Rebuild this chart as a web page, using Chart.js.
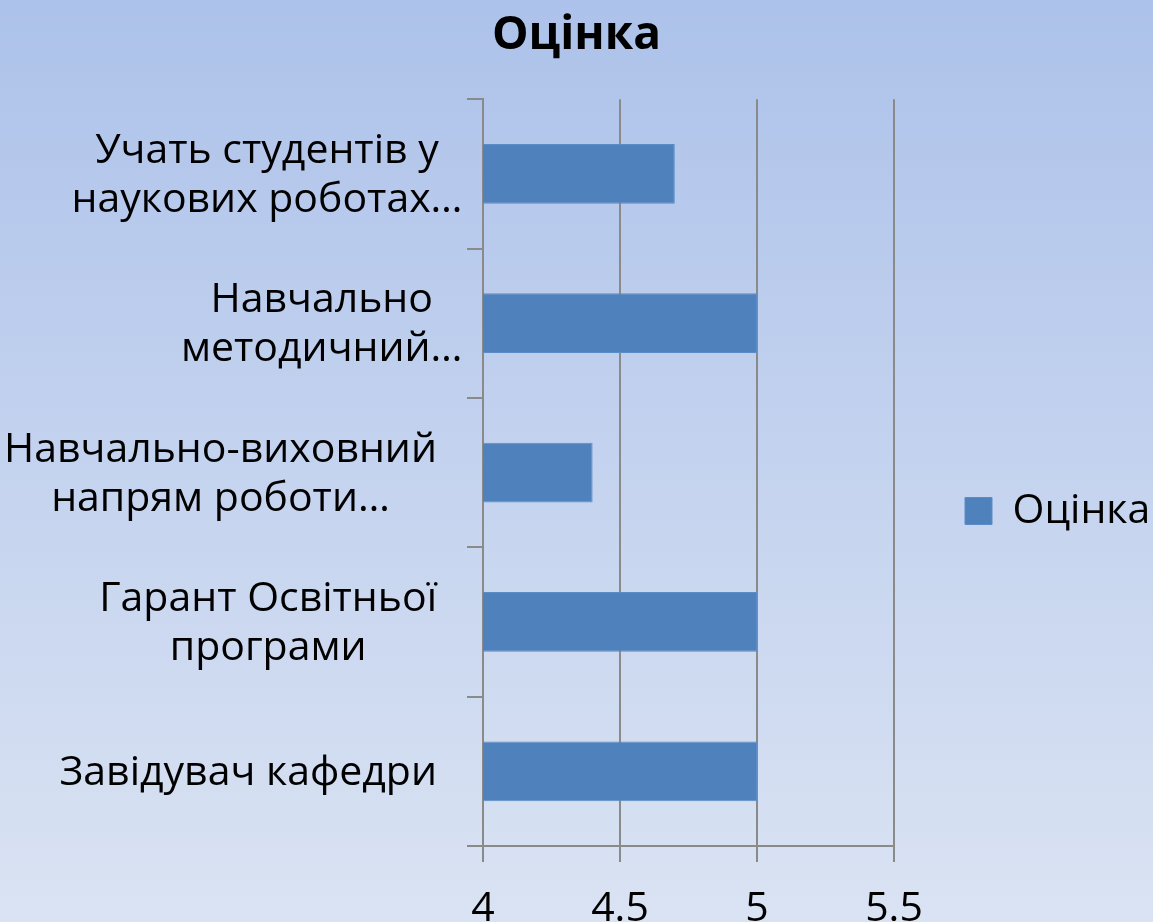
<!DOCTYPE html>
<html>
<head>
<meta charset="utf-8">
<script src="https://cdn.jsdelivr.net/npm/chart.js@4/dist/chart.umd.min.js"></script>
<style>
  html, body { margin: 0; padding: 0; background: #c5d3ee; }
  #wrap { width: 1153px; height: 922px; position: relative; }
</style>
</head>
<body>
<div id="wrap"><canvas id="c"></canvas></div>
<script>
// ---- data ----
const chartTitle = 'Оцінка';
const seriesName = 'Оцінка';
const categories = [
  ['Учать студентів у', 'наукових роботах…'],
  ['Навчально', 'методичний…'],
  ['Навчально-виховний', 'напрям роботи…'],
  ['Гарант Освітньої', 'програми'],
  ['Завідувач кафедри']
];
const scores = [4.7, 5, 4.4, 5, 5];
const xTickValues = [4, 4.5, 5, 5.5];

// ---- styles ----
const FONT = "'Open Sans', 'DejaVu Sans', sans-serif";
const LABEL_SIZE = 41;
const GRID = '#8a8a8a';
const BAR = '#4f81bd';
const PLOT_LEFT = 483;
const LEGEND_W = 259;
const BOX = 27;

// compute legend padding so the legend starts where the plot ends
const mctx = document.createElement('canvas').getContext('2d');
mctx.font = `${LABEL_SIZE}px ${FONT}`;
const legendTextW = mctx.measureText(seriesName).width;
const legendPad = Math.max(10, Math.floor(LEGEND_W - BOX - LABEL_SIZE / 2 - legendTextW - 2));

const bgPlugin = {
  id: 'bg',
  beforeDraw(chart) {
    const { ctx, width, height } = chart;
    const g = ctx.createLinearGradient(0, 0, 0, height);
    g.addColorStop(0, '#adc2ea');
    g.addColorStop(1, '#dae3f3');
    ctx.save();
    ctx.fillStyle = g;
    ctx.fillRect(0, 0, width, height);
    ctx.restore();
  }
};

const yLabelPlugin = {
  id: 'yLabels',
  afterDraw(chart) {
    const s = chart.scales.y, ctx = chart.ctx;
    ctx.save();
    ctx.font = `${LABEL_SIZE}px ${FONT}`;
    ctx.fillStyle = '#000';
    ctx.textAlign = 'center';
    ctx.textBaseline = 'middle';
    const ell = ctx.measureText('…').width;
    const baseRight = s.right - 16 - 30;
    const lh = 49;
    s.getLabels().forEach((lines, i) => {
      let w = 0, hasEll = false;
      lines.forEach(l => {
        const lw = ctx.measureText(l).width;
        if (lw > w) { w = lw; hasEll = l.endsWith('…'); }
      });
      const right = baseRight + (hasEll ? ell * 0.8 : 0);
      const cx = right - w / 2;
      const cy = s.getPixelForValue(i) + 2;
      lines.forEach((l, j) => ctx.fillText(l, cx, cy + (j - (lines.length - 1) / 2) * lh));
    });
    ctx.restore();
  }
};

new Chart(document.getElementById('c'), {
  type: 'bar',
  data: {
    labels: categories,
    datasets: [{
      label: seriesName,
      data: scores,
      backgroundColor: BAR,
      borderColor: '#5b8cc8',
      borderWidth: 1,
      categoryPercentage: 1,
      barPercentage: 0.4
    }]
  },
  options: {
    indexAxis: 'y',
    responsive: true,
    maintainAspectRatio: false,
    animation: false,
    devicePixelRatio: 1,
    layout: { padding: 0 },
    plugins: {
      title: {
        display: true,
        text: chartTitle,
        color: '#000',
        font: { family: FONT, size: 46, weight: 'bold' },
        padding: { top: 8, bottom: 36 }
      },
      legend: {
        display: true,
        position: 'right',
        align: 'center',
        maxWidth: LEGEND_W,
        title: {
          display: true,
          text: ' ',
          font: { family: FONT, size: 10 },
          padding: { top: 44, bottom: 44 }
        },
        labels: {
          color: '#000',
          font: { family: FONT, size: LABEL_SIZE },
          boxWidth: BOX,
          boxHeight: BOX,
          padding: legendPad
        }
      },
      tooltip: { enabled: false }
    },
    scales: {
      x: {
        type: 'linear',
        position: 'bottom',
        min: xTickValues[0],
        max: xTickValues[xTickValues.length - 1],
        afterBuildTicks: s => { s.ticks = xTickValues.map(v => ({ value: v })); },
        afterFit: s => { s.height = 76; },
        grid: { color: GRID, lineWidth: 2, tickLength: 16, drawOnChartArea: true },
        border: { color: GRID, width: 2 },
        ticks: {
          color: '#000',
          font: { family: FONT, size: LABEL_SIZE },
          padding: 23,
          maxRotation: 0,
          autoSkip: false,
          callback: v => String(v)
        }
      },
      y: {
        type: 'category',
        position: 'left',
        afterFit: s => { s.width = PLOT_LEFT; },
        grid: { color: GRID, lineWidth: 2, tickLength: 16, drawOnChartArea: false, offset: true },
        border: { color: GRID, width: 2 },
        ticks: { display: false }
      }
    }
  },
  plugins: [bgPlugin, yLabelPlugin]
});
</script>
</body>
</html>
